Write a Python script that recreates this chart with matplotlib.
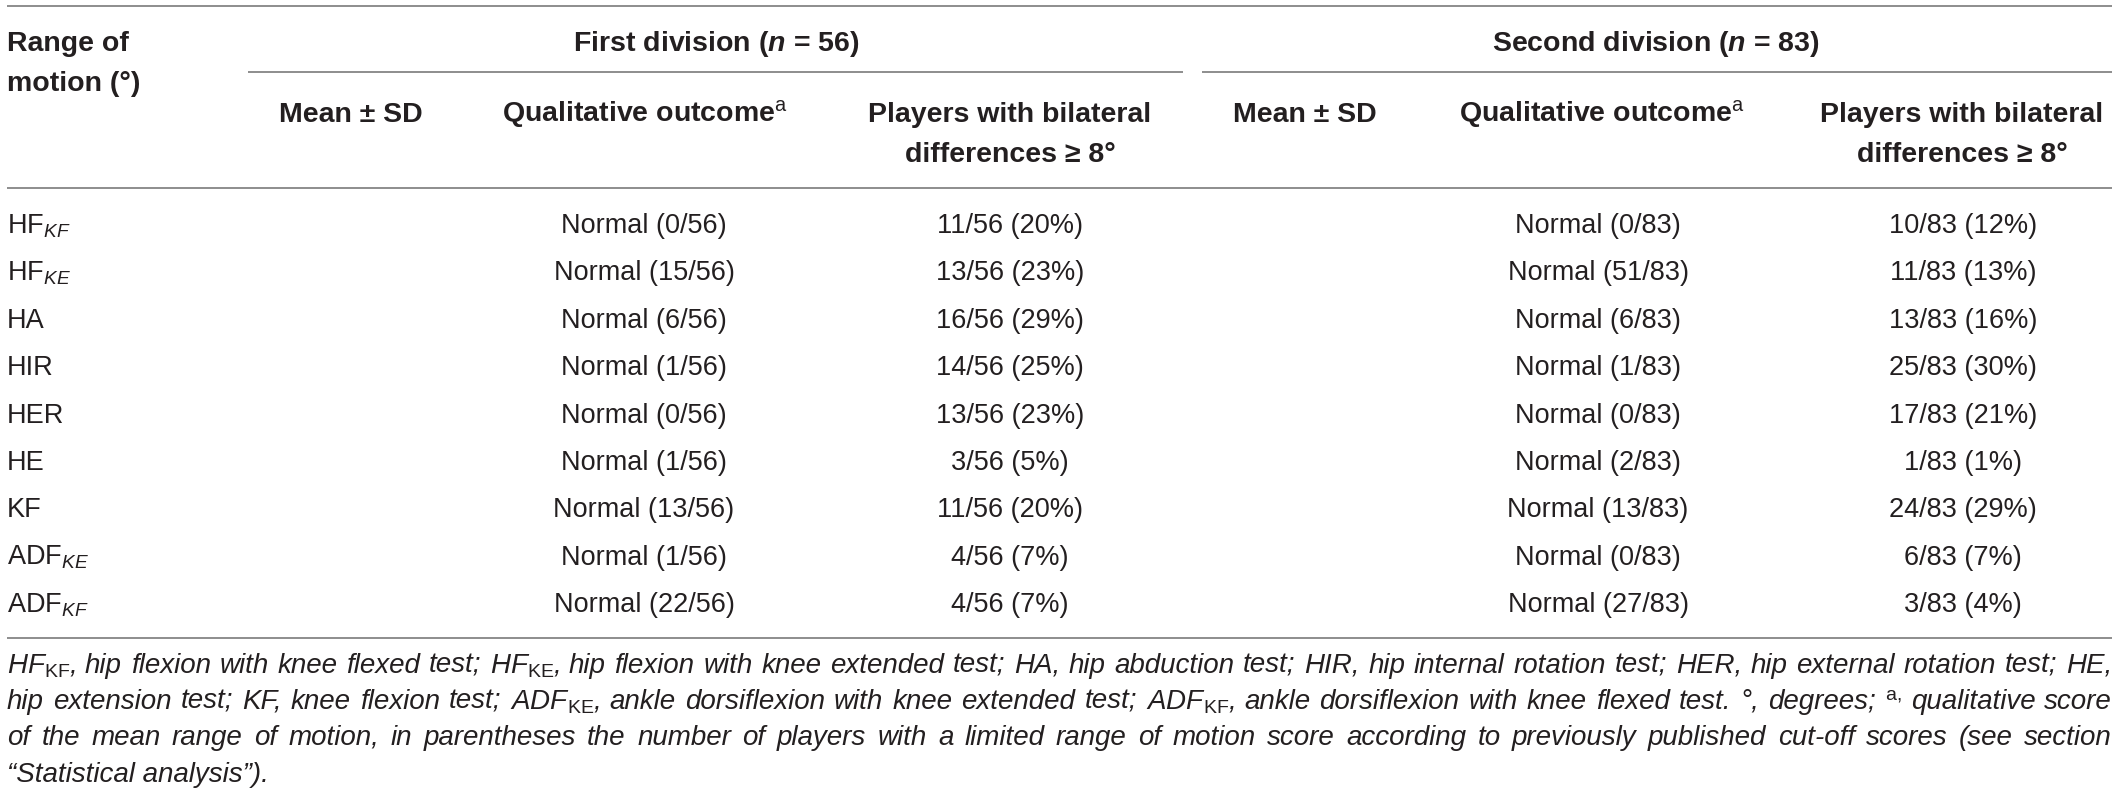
import numpy as np
import matplotlib
matplotlib.use("Agg")
import matplotlib.pyplot as plt

plt.rcParams['font.family'] = ['Liberation Sans', 'DejaVu Sans']
plt.rcParams['mathtext.fontset'] = 'custom'
plt.rcParams['mathtext.rm'] = 'Liberation Sans'
plt.rcParams['mathtext.it'] = 'Liberation Sans:italic'
plt.rcParams['mathtext.bf'] = 'Liberation Sans:bold'
plt.rcParams['mathtext.bfit'] = 'Liberation Sans:bold:italic'

# ---- table content ----
rom_labels = [r"HF$_{\mathit{KF}}$", r"HF$_{\mathit{KE}}$", "HA", "HIR", "HER", "HE", "KF",
              r"ADF$_{\mathit{KE}}$", r"ADF$_{\mathit{KF}}$"]
n_first = 56
n_second = 83
first_limited = [0, 15, 6, 1, 0, 1, 13, 1, 22]
first_bilat = [11, 13, 16, 14, 13, 3, 11, 4, 4]
first_bilat_pct = [20, 23, 29, 25, 23, 5, 20, 7, 7]
second_limited = [0, 51, 6, 1, 0, 2, 13, 0, 27]
second_bilat = [10, 11, 13, 25, 17, 1, 24, 6, 3]
second_bilat_pct = [12, 13, 16, 30, 21, 1, 29, 7, 4]
qual_word = "Normal"

sub_headers = ["Mean \u00b1 SD", r"Qualitative outcome$^{\mathrm{a}}$",
               "Players with bilateral\ndifferences \u2265 8\u00b0"]

footnote = [
    r"HF$_{\mathrm{KF}}$, hip flexion with knee flexed test; HF$_{\mathrm{KE}}$, hip flexion with knee extended test; HA, hip abduction test; HIR, hip internal rotation test; HER, hip external rotation test; HE,",
    r"hip extension test; KF, knee flexion test; ADF$_{\mathrm{KE}}$, ankle dorsiflexion with knee extended test; ADF$_{\mathrm{KF}}$, ankle dorsiflexion with knee flexed test. " + "\u00b0" + r", degrees; $^{\mathrm{a,}}$ qualitative score",
    "of the mean range of motion, in parentheses the number of players with a limited range of motion score according to previously published cut-off scores (see section",
    "\u201cStatistical analysis\u201d).",
]

# ---- figure in pixel coordinates ----
W, H = 2118, 798
fig = plt.figure(figsize=(W / 100, H / 100), dpi=100)
ax = fig.add_axes([0, 0, 1, 1])
ax.set_xlim(0, W)
ax.set_ylim(H, 0)
ax.axis('off')

txt = '#231f20'
rule = '#858585'
hsize = 20.5
bsize = 19.5
fsize = 20

def hline(x0, x1, y):
    ax.plot([x0, x1], [y, y], color=rule, lw=1.3, solid_capstyle='butt')

hline(7, 2112, 6)
hline(248, 1183, 72)
hline(1202, 2112, 72)
hline(7, 2112, 188)
hline(7, 2112, 638)

# header
ax.text(7, 51, "Range of", fontsize=hsize, fontweight='bold', color=txt, va='baseline')
ax.text(7, 91, "motion (\u00b0)", fontsize=hsize, fontweight='bold', color=txt, va='baseline')
ax.text(716, 51, r"First division ($\mathbfit{n}$ = %d)" % n_first, fontsize=hsize,
        fontweight='bold', color=txt, ha='center', va='baseline')
ax.text(1656, 51, r"Second division ($\mathbfit{n}$ = %d)" % n_second, fontsize=hsize,
        fontweight='bold', color=txt, ha='center', va='baseline')

col_x = [351, 645, 1010, 1305, 1602, 1962]
for i, cx in enumerate(col_x):
    lines = sub_headers[i % 3].split("\n")
    for j, s in enumerate(lines):
        ax.text(cx, 122 + 40 * j, s, fontsize=hsize, fontweight='bold', color=txt,
                ha='center', va='baseline')

# body rows
row_y = 233 + 47.4 * np.arange(len(rom_labels))
for i, y in enumerate(row_y):
    ax.text(7, y, rom_labels[i], fontsize=bsize, color=txt, va='baseline')
    ax.text(644, y, "%s (%d/%d)" % (qual_word, first_limited[i], n_first), fontsize=bsize,
            color=txt, ha='center', va='baseline')
    ax.text(1010, y, "%d/%d (%d%%)" % (first_bilat[i], n_first, first_bilat_pct[i]),
            fontsize=bsize, color=txt, ha='center', va='baseline')
    ax.text(1598, y, "%s (%d/%d)" % (qual_word, second_limited[i], n_second), fontsize=bsize,
            color=txt, ha='center', va='baseline')
    ax.text(1963, y, "%d/%d (%d%%)" % (second_bilat[i], n_second, second_bilat_pct[i]),
            fontsize=bsize, color=txt, ha='center', va='baseline')

# footnote, justified like the journal layout
renderer = fig.canvas.get_renderer()

def justify(line, y, x0, x1):
    words = line.split(" ")
    texts = [ax.text(x0, y, w, fontsize=fsize, fontstyle='italic', color=txt, va='baseline')
             for w in words]
    widths = [t.get_window_extent(renderer).width for t in texts]
    gap = max((x1 - x0 - sum(widths)) / (len(words) - 1), 3)
    x = x0
    for t, w in zip(texts, widths):
        t.set_x(x)
        x += w + gap

foot_y = [673, 709, 745, 782]
for k, line in enumerate(footnote):
    if k < len(footnote) - 1:
        justify(line, foot_y[k], 7, 2112)
    else:
        ax.text(7, foot_y[k], line, fontsize=fsize, fontstyle='italic', color=txt, va='baseline')

fig.savefig("out.png", dpi=100)
